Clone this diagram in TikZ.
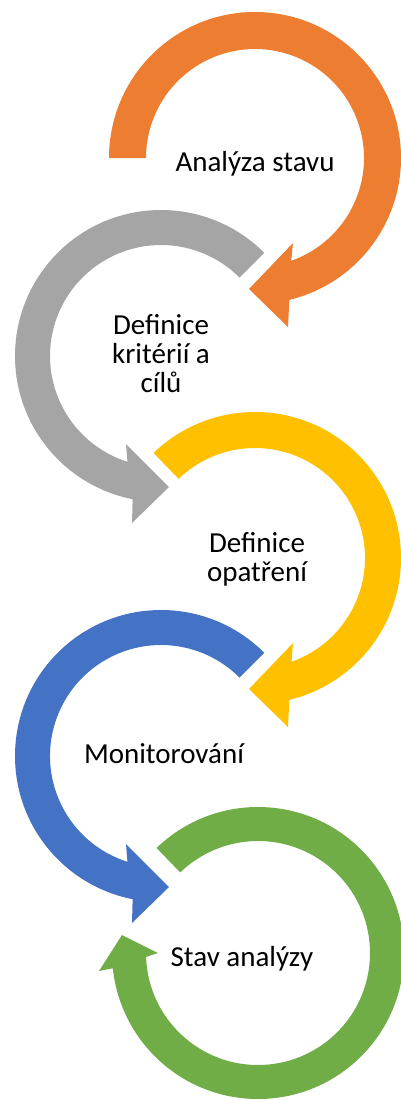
\documentclass[tikz,border=0pt]{standalone}
\usepackage{fontspec}
\setmainfont{Carlito}
\usetikzlibrary{calc}
\definecolor{ringorange}{HTML}{ED7D31}
\definecolor{ringgray}{HTML}{A5A5A5}
\definecolor{ringyellow}{HTML}{FFC000}
\definecolor{ringblue}{HTML}{4472C4}
\definecolor{ringgreen}{HTML}{70AD47}

\begin{document}
\begin{tikzpicture}%
  [x=1pt,y=-1pt,
   phase/.style=
    {font=\fontsize{29}{29}\selectfont,align=center,inner sep=0pt},
   ring/.style={fill=#1,draw=none}
  ]
  \useasboundingbox (0,0) rectangle (401,1100);
  % ring centres
  \coordinate (c1) at (255,158);
  \coordinate (c2) at (161,356);
  \coordinate (c3) at (255,558);
  \coordinate (c4) at (161,756);
  \coordinate (c5) at (258,953);
  % clockwise, head at bottom
  \fill[ring=ringorange] ($(c1)+(180:146)$)
    arc[start angle=180,end angle=436.4,radius=146]
    -- ($(c1)+(33,169)$) -- ($(c1)+(-6,131)$) -- ($(c1)+(38,85)$)
    -- ($(c1)+(430.6:109)$)
    arc[start angle=430.6,end angle=180,radius=109] -- cycle;
  % anticlockwise, head at bottom
  \fill[ring=ringgray] ($(c2)+(315:146)$)
    arc[start angle=315,end angle=101.2,radius=146]
    -- ($(c2)+(-29,167)$) -- ($(c2)+(8,131)$) -- ($(c2)+(-35,88)$)
    -- ($(c2)+(107.6:111)$)
    arc[start angle=107.6,end angle=315,radius=111] -- cycle;
  \fill[ring=ringyellow] ($(c3)+(226:146)$)
    arc[start angle=226,end angle=436.4,radius=146]
    -- ($(c3)+(33,169)$) -- ($(c3)+(-6,131)$) -- ($(c3)+(38,85)$)
    -- ($(c3)+(430.6:110)$)
    arc[start angle=430.6,end angle=226,radius=110] -- cycle;
  \fill[ring=ringblue] ($(c4)+(315:146)$)
    arc[start angle=315,end angle=101.2,radius=146]
    -- ($(c4)+(-29,167)$) -- ($(c4)+(8,131)$) -- ($(c4)+(-35,88)$)
    -- ($(c4)+(107.6:111)$)
    arc[start angle=107.6,end angle=315,radius=111] -- cycle;
  % almost full turn, head on the left
  \fill[ring=ringgreen] ($(c5)+(226:146)$)
    arc[start angle=226,end angle=534,radius=146]
    -- ($(c5)+(-159,18)$) -- ($(c5)+(-136,-18)$) -- ($(c5)+(-100,0)$)
    -- ($(c5)+(538:112)$)
    arc[start angle=538,end angle=226,radius=112] -- cycle;
  % texts
  \node[phase,anchor=base] (analyza) at (255,171) {Analýza stavu};
  \node[phase] (kriteria) at (161,354) {Definice\\kritérií a\\cílů};
  \node[phase] (opatreni) at (257,559) {Definice\\opatření};
  \node[phase,anchor=base] (monitor) at (164,763) {Monitorování};
  \node[phase,anchor=base] (stav) at (242,966) {Stav analýzy};
\end{tikzpicture}
\end{document}
